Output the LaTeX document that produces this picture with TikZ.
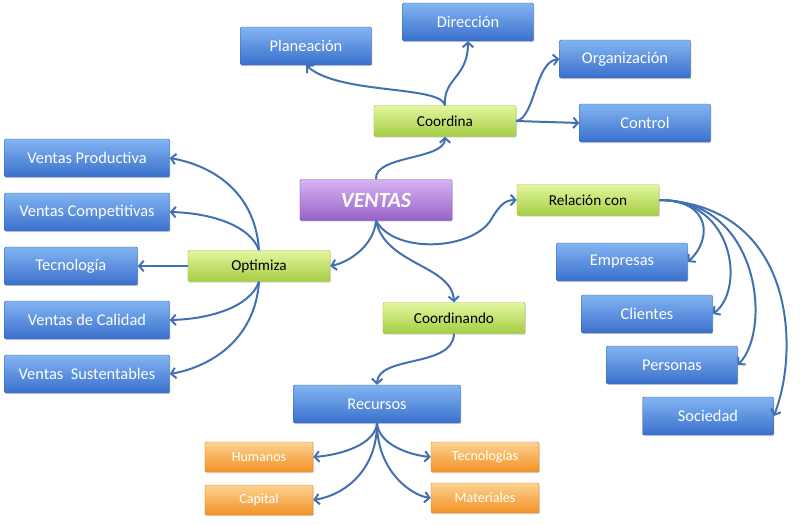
\documentclass[tikz,border=0pt]{standalone}
\usepackage{fontspec}
\setmainfont{Carlito}
\usepackage{xcolor}
\usepackage{tikz}
\usetikzlibrary{arrows.meta}
\usetikzlibrary{shadows}

\definecolor{bluetop}{RGB}{130,180,242}
\definecolor{bluebot}{RGB}{58,112,204}
\definecolor{blueline}{RGB}{52,98,178}
\definecolor{greentop}{RGB}{228,246,160}
\definecolor{greenbot}{RGB}{164,206,68}
\definecolor{greenline}{RGB}{150,190,66}
\definecolor{purptop}{RGB}{214,180,242}
\definecolor{purpbot}{RGB}{152,96,200}
\definecolor{purpline}{RGB}{120,78,166}
\definecolor{orgtop}{RGB}{252,210,146}
\definecolor{orgbot}{RGB}{242,146,36}
\definecolor{orgline}{RGB}{214,128,28}
\definecolor{linkcol}{RGB}{66,112,176}

\tikzset{
  box/.style={draw,rounded corners=1pt,inner sep=2pt,
    drop shadow={opacity=0.3,shadow xshift=0.7pt,shadow yshift=-1pt}},
  bluebox/.style={box,draw=blueline,top color=bluetop,bottom color=bluebot,
    text=white,font=\fontsize{14}{16}\selectfont,minimum width=3.93cm,minimum height=1.14cm},
  greenbox/.style={box,draw=greenline,top color=greentop,bottom color=greenbot,
    text=black,font=\fontsize{13}{15}\selectfont,minimum width=4.26cm,minimum height=0.93cm},
  orgbox/.style={box,draw=orgline,top color=orgtop,bottom color=orgbot,
    text=white,font=\fontsize{12}{14}\selectfont,minimum width=3.24cm,minimum height=0.9cm},
  link/.style={draw=linkcol,line width=1.7pt,-{Straight Barb[length=4pt,width=9pt]}}
}

\begin{document}
\begin{tikzpicture}[x=0.03cm,y=-0.03cm]
        \useasboundingbox (0,0) rectangle (800,525);

        % centre
        \node[box,draw=purpline,top color=purptop,bottom color=purpbot,text=white,
          font=\fontsize{18.5}{20}\selectfont\bfseries\itshape,
          minimum width=4.56cm,minimum height=1.23cm] (ventas) at (376,200) {VENTAS};

        % green level
        \node[greenbox] (coord) at (445,121) {Coordina};
        \node[greenbox] (opt) at (259,266) {Optimiza};
        \node[greenbox] (rel) at (588,200) {Relación con};
        \node[greenbox] (coordo) at (454,318) {Coordinando};

        % top
        \node[bluebox] (plan) at (306,46) {Planeación};
        \node[bluebox] (dir) at (468,22) {Dirección};
        \node[bluebox] (org) at (625,59) {Organización};
        \node[bluebox] (ctrl) at (645,123) {Control};

        % left
        \node[bluebox,minimum width=4.95cm] (prod) at (87,158) {Ventas Productiva};
        \node[bluebox,minimum width=4.95cm] (comp) at (87,212) {Ventas Competitivas};
        \node[bluebox,minimum width=3.99cm] (tec) at (71,266) {Tecnología};
        \node[bluebox,minimum width=4.95cm] (cal) at (87,320) {Ventas de Calidad};
        \node[bluebox,minimum width=4.95cm] (sus) at (87,374) {Ventas\ \ Sustentables};

        % right
        \node[bluebox] (emp) at (622,262) {Empresas};
        \node[bluebox] (cli) at (647,314) {Clientes};
        \node[bluebox] (per) at (672,365) {Personas};
        \node[bluebox] (soc) at (708,416) {Sociedad};

        % bottom
        \node[bluebox,minimum width=5.01cm] (rec) at (377,404) {Recursos};
        \node[orgbox] (hum) at (259,457) {Humanos};
        \node[orgbox] (cap) at (259,500) {Capital};
        \node[orgbox] (tecs) at (485,457) {Tecnologías};
        \node[orgbox] (mat) at (485,498) {Materiales};

        % connectors
        \draw[link] (ventas.north) .. controls (374,155) and (445,160) .. (coord.south);
        \draw[link] (ventas.south) .. controls (395,255) and (475,250) .. (492,218) .. controls (500,205) and (505,200) .. (rel.west);
        \draw[link] (ventas.south) .. controls (374,245) and (350,262) .. (opt.east);
        \draw[link] (ventas.south) .. controls (385,265) and (452,265) .. (coordo.north);

        \draw[link] (coord.north) .. controls (440,85) and (340,95) .. (plan.south);
        \draw[link] (coord.north) .. controls (443,78) and (468,78) .. (dir.south);
        \draw[link] (coord.east) .. controls (535,118) and (535,62) .. (org.west);
        \draw[link] (coord.east) -- (ctrl.west);

        \draw[link] (opt.north) .. controls (255,190) and (210,165) .. (prod.east);
        \draw[link] (opt.north) .. controls (250,225) and (210,213) .. (comp.east);
        \draw[link] (opt.west) -- (tec.east);
        \draw[link] (opt.south) .. controls (250,307) and (210,319) .. (cal.east);
        \draw[link] (opt.south) .. controls (255,340) and (210,367) .. (sus.east);

        \draw[link] (rel.east) .. controls (712,200) and (712,240) .. (emp.east);
        \draw[link] (rel.east) .. controls (735,200) and (745,290) .. (cli.east);
        \draw[link] (rel.east) .. controls (760,200) and (772,330) .. (per.east);
        \draw[link] (rel.east) .. controls (795,205) and (800,350) .. (soc.east);

        \draw[link] (coordo.south) .. controls (453,368) and (378,355) .. (rec.north);

        \draw[link] (rec.south) .. controls (375,445) and (340,455) .. (hum.east);
        \draw[link] (rec.south) .. controls (377,470) and (345,495) .. (cap.east);
        \draw[link] (rec.south) .. controls (379,445) and (410,455) .. (tecs.west);
        \draw[link] (rec.south) .. controls (377,470) and (410,495) .. (mat.west);

\end{tikzpicture}
\end{document}
